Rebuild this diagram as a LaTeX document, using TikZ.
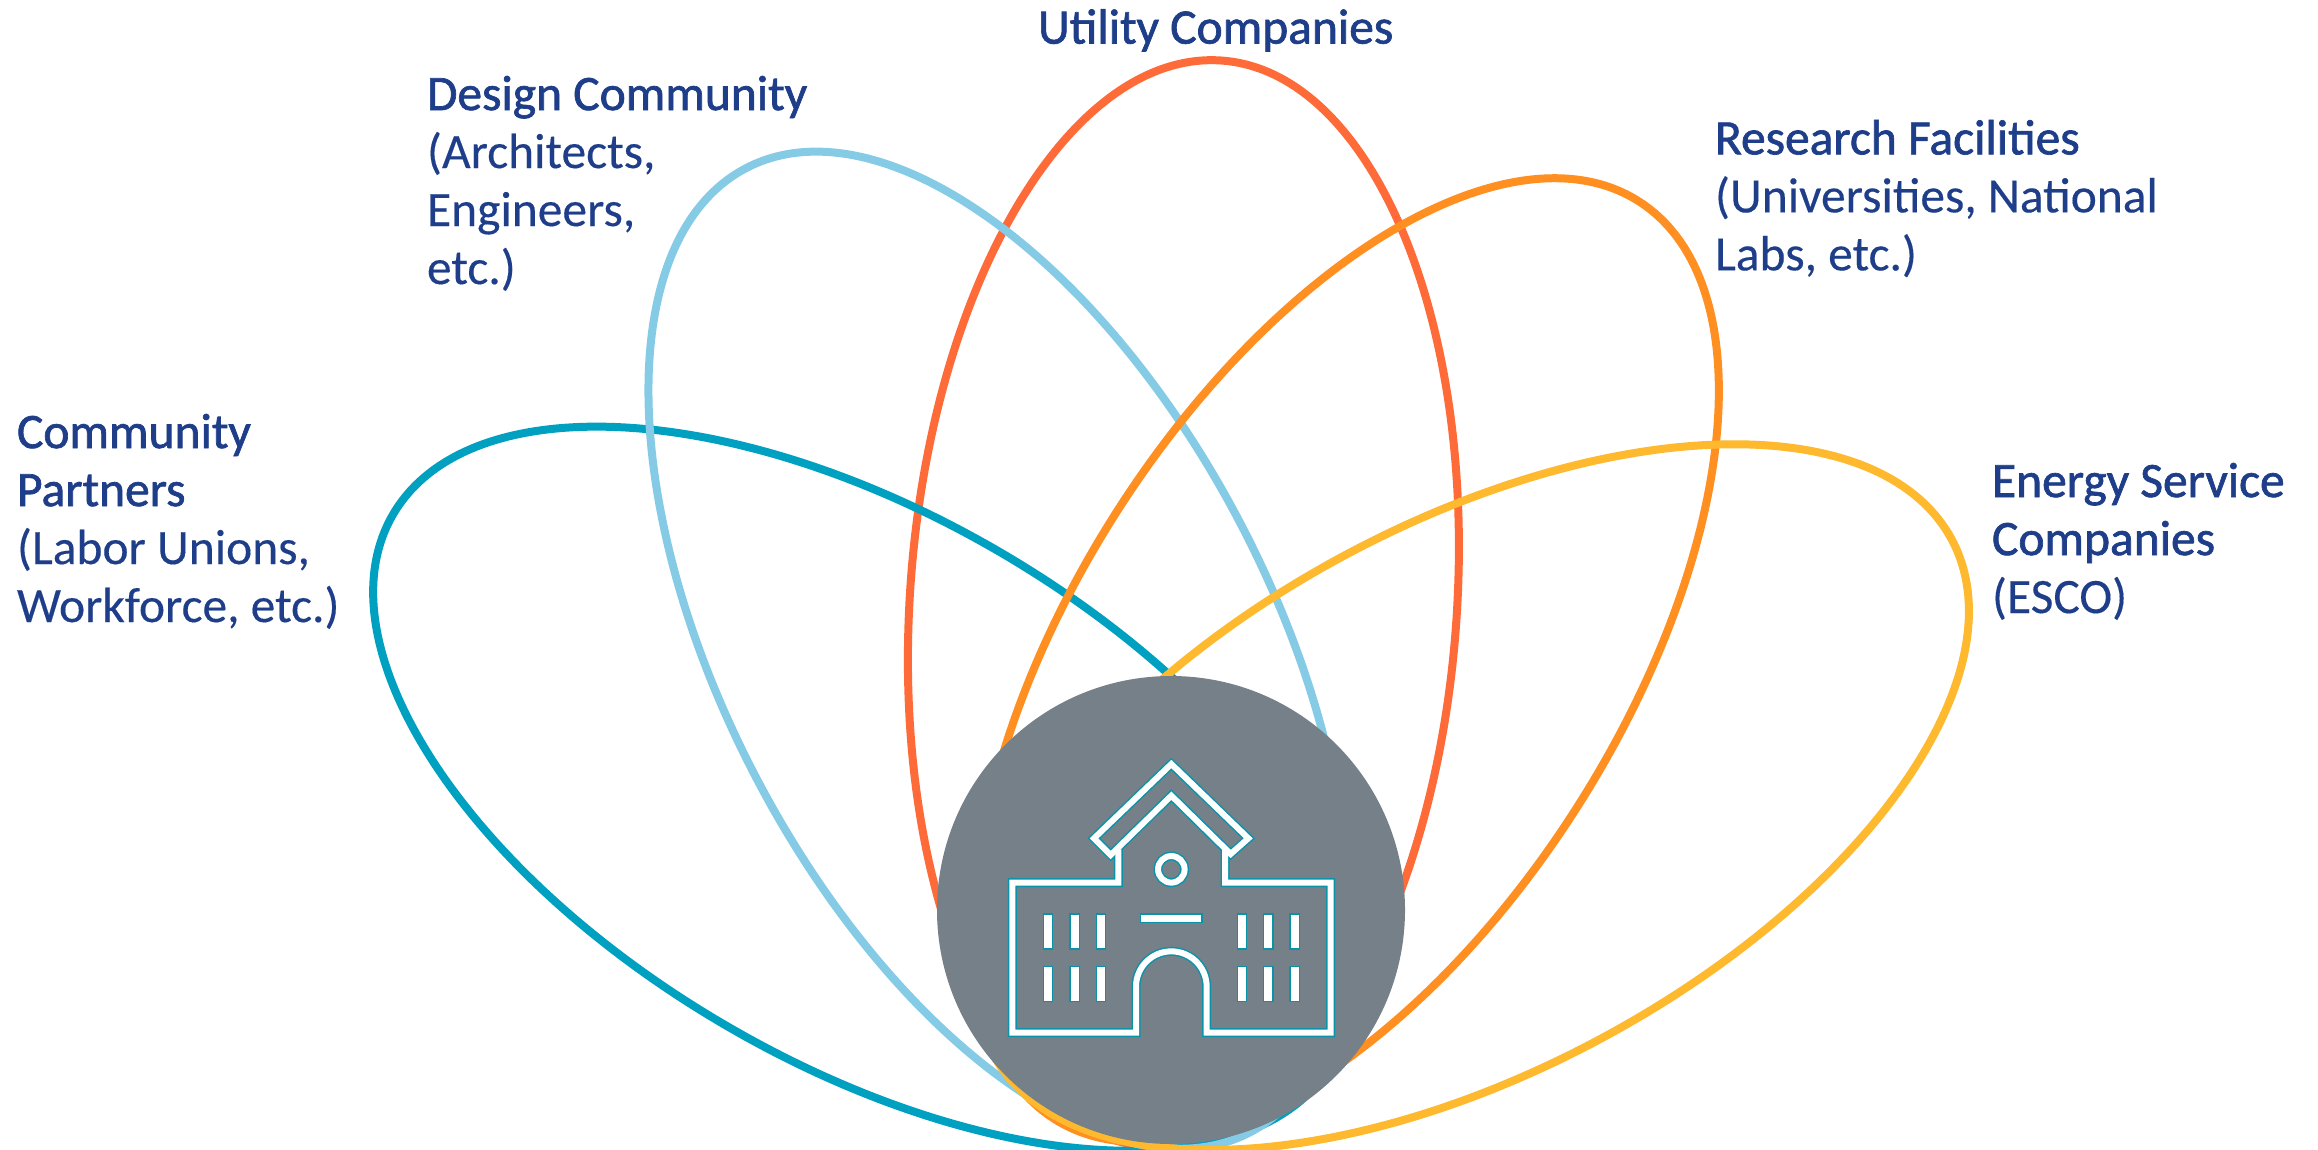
\documentclass[tikz,border=0pt]{standalone}
\usepackage{fontspec}
\setmainfont[FakeBold=0.3]{Carlito}
\newfontfamily\hdfont[FakeBold=1.4]{Carlito}
\definecolor{txt}{HTML}{1F3E8A}
\definecolor{cteal}{HTML}{00A0C0}
\definecolor{clight}{HTML}{85CBE6}
\definecolor{cred}{HTML}{FF6B38}
\definecolor{corange}{HTML}{FF8F20}
\definecolor{cgold}{HTML}{FFB92E}
\definecolor{cgrey}{HTML}{768089}
\definecolor{iconedge}{HTML}{0A93A8}
\tikzset{
  petal/.style={line width=8pt,x radius=544pt,y radius=273.5pt},
  lab/.style={anchor=north west,inner sep=0pt,outer sep=0pt,align=left,text=txt,
    font=\fontsize{49.5}{58}\selectfont,execute at begin node=\strut},
  iconedgeline/.style={draw=iconedge,line width=9pt,line join=miter},
  iconline/.style={draw=white,line width=6pt,line join=miter},
  win/.style={fill=white,draw=iconedge,line width=1.4pt},
}
\newcommand{\hd}[1]{{\hdfont #1}}
\begin{document}
\begin{tikzpicture}[x=1pt,y=-1pt]
\useasboundingbox (0,0) rectangle (2318,1150);
% petals
\draw[petal,draw=cred,shift={(1183.4,603.2)},rotate=86] (0,0) ellipse [];
\draw[petal,draw=cteal,shift={(862.8,788.7)},rotate=-30.3] (0,0) ellipse [];
\draw[petal,draw=clight,shift={(998.1,650.2)},rotate=117.6] (0,0) ellipse [];
\draw[petal,draw=corange,shift={(1346.5,660.1)},rotate=57.5] (0,0) ellipse [];
\draw[petal,draw=cgold,shift={(1472.6,797.1)},rotate=28.3] (0,0) ellipse [];
% hub
\node[circle,fill=cgrey,minimum size=468pt,inner sep=0pt,outer sep=0pt] (hub) at (1171,910) {};
% school icon
\begin{scope}[shift={(900,650)},x=0.33333pt,y=-0.33333pt]
  \def\roof{(582,565) -- (814,342) -- (1045,565) -- (992,612) -- (814,437) -- (632,615) -- cycle}
  \def\clock{(814,658) circle[radius=13.3pt]}
  \def\walls{(975,598) -- (975,698) -- (1292,698) -- (1292,1148) -- (920,1148) -- (920,1010) arc[start angle=0,end angle=180,radius=35.33pt] -- (708,1148) -- (337,1148) -- (337,698) -- (655,698) -- (655,598)}
  \draw[iconedgeline] \walls;
  \draw[iconedgeline] \roof;
  \draw[iconedgeline] \clock;
  \draw[iconline] \walls;
  \draw[iconline] \roof;
  \draw[iconline] \clock;
  \foreach \xa in {430,510,589,1012,1091,1170}{
    \foreach \ya in {792,950}{
      \draw[win] (\xa,\ya) rectangle ++(28,105);
    }
  }
  \draw[win] (722,792) rectangle (906,818);
\end{scope}
% labels
\node[lab] (utility) at (1038,3) {\hd{Utility Companies}};
\node[lab] (design) at (427,76) {\hd{Design Community}\\(Architects,\\Engineers,\\etc.)};
\node[lab] (community) at (17,414) {\hd{Community}\\\hd{Partners}\\(Labor Unions,\\Workforce, etc.)};
\node[lab] (research) at (1715,120) {\hd{Research Facilities}\\(Universities, National\\Labs, etc.)};
\node[lab] (energy) at (1992,463) {\hd{Energy Service}\\\hd{Companies}\\(ESCO)};
\end{tikzpicture}
\end{document}
